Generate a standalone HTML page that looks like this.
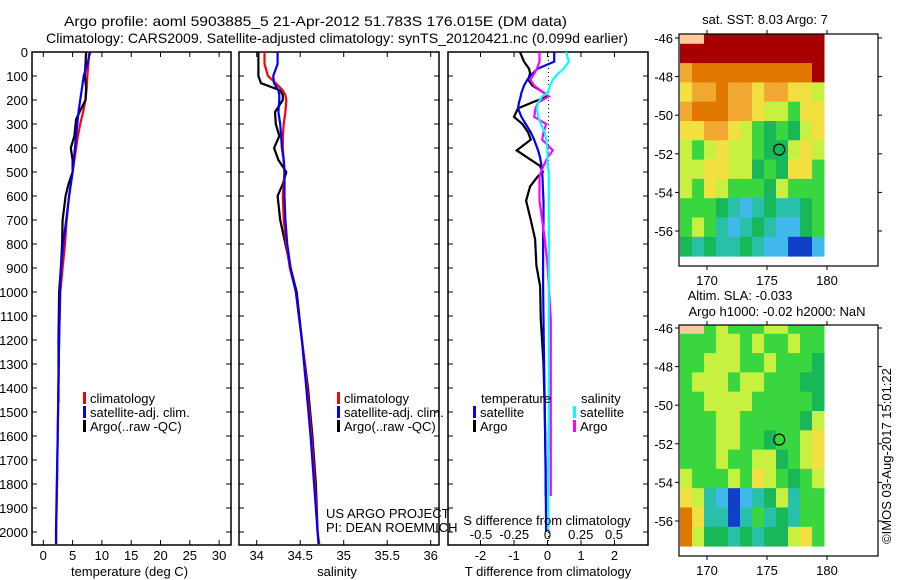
<!DOCTYPE html>
<html><head><meta charset="utf-8"><style>
html,body{margin:0;padding:0;background:#fff;}
svg{display:block;font-family:"Liberation Sans",sans-serif;}
</style></head><body>
<svg id="fig" width="900" height="580" viewBox="0 0 900 580" xmlns="http://www.w3.org/2000/svg">
<text x="64" y="26" font-size="14" textLength="503" lengthAdjust="spacingAndGlyphs">Argo profile: aoml 5903885_5 21-Apr-2012 51.783S 176.015E (DM data)</text>
<text x="46" y="43" font-size="14" textLength="582" lengthAdjust="spacingAndGlyphs">Climatology: CARS2009. Satellite-adjusted climatology: synTS_20120421.nc (0.099d earlier)</text>
<g id="g"></g>
</svg>
<script>
// ---- data ----
const tDepth=[0,50,100,150,200,250,300,350,400,450,500,600,700,800,900,1000,1200,1400,1600,1800,2000,2050];
const tClim=[7.8,7.7,7.5,7.4,7.2,6.8,6.3,5.9,5.6,5.3,5.0,4.4,4.0,3.7,3.3,2.9,2.7,2.57,2.45,2.35,2.2,2.2];
const tSat=[8.0,7.5,6.9,6.6,6.3,6.0,5.8,5.6,5.4,5.2,5.0,4.4,3.9,3.4,3.0,2.85,2.7,2.57,2.45,2.3,2.17,2.17];
const tArgoDepth=[0,50,100,150,200,250,280,350,400,450,500,550,600,700,800,900,1000,1200,1400,1460];
const tArgo=[7.3,7.2,7.1,7.3,7.2,6.2,5.6,5.3,4.7,5.0,5.0,4.3,3.8,3.3,3.2,3.0,2.7,2.6,2.6,2.6];
const sDepth=[0,50,100,130,160,180,200,250,300,350,400,450,500,550,600,700,800,900,1000,1200,1400,1600,1800,2000,2050];
const sClim=[34.09,34.09,34.13,34.22,34.30,34.33,34.34,34.33,34.31,34.30,34.30,34.31,34.32,34.31,34.30,34.31,34.34,34.38,34.45,34.52,34.58,34.63,34.67,34.70,34.72];
const sSat=[34.24,34.24,34.19,34.20,34.25,34.26,34.26,34.25,34.27,34.28,34.29,34.31,34.32,34.32,34.32,34.33,34.35,34.39,34.45,34.52,34.57,34.62,34.66,34.70,34.71];
const sArgo=[34.02,34.02,34.02,34.05,34.27,34.30,34.30,34.21,34.22,34.26,34.20,34.25,34.34,34.30,34.24,34.27,34.33,34.39,34.46,34.52,34.59,34.64,34.68,34.70,null];
const dDepth=[0,40,70,90,115,140,170,185,210,235,270,300,335,365,410,440,475,500,520,560,620,700,780,890,975,1115,1300,1500,1700,1850,2000];
const dTArgo=[-0.82,-0.7,-0.55,-0.52,-0.58,-0.45,-0.1,0,-0.45,-0.88,-1.0,-0.75,-0.58,-0.5,-0.92,-0.6,-0.22,-0.14,-0.3,-0.52,-0.64,-0.5,-0.37,-0.33,-0.22,-0.2,-0.12,-0.08,-0.06,-0.05,null];
const dTSat=[0.2,0.2,-0.3,-0.45,-0.6,-0.7,-0.78,-0.8,-0.85,-0.88,-0.78,-0.65,-0.5,-0.4,-0.28,-0.22,-0.18,-0.16,-0.15,-0.14,-0.12,-0.12,-0.13,-0.13,-0.13,-0.12,-0.1,-0.08,-0.06,-0.05,-0.04];
const dSSat=[0.14,0.16,0.12,0.08,0.04,0.02,0.0,-0.04,-0.07,-0.08,-0.07,-0.05,-0.02,-0.01,0,0,0,0.01,0.01,0.01,0.01,0.01,0.01,0.01,0.01,0.01,0.01,0.01,0.005,0.005,0.005];
const dSArgo=[-0.06,-0.06,-0.08,-0.1,-0.13,-0.1,-0.03,0.01,-0.07,-0.09,-0.1,-0.01,-0.03,-0.04,0.04,0.0,-0.03,-0.05,-0.06,-0.06,-0.06,-0.04,-0.02,0,0.01,0.025,0.025,0.025,0.025,0.025,null];
const depthTicks=[0,100,200,300,400,500,600,700,800,900,1000,1100,1200,1300,1400,1500,1600,1700,1800,1900,2000];
const tempTicks=[0,5,10,15,20,25,30];
const salTicks=[34,34.5,35,35.5,36];
const dTTicks=[-2,-1,0,1,2];
const dSTicks=[-0.5,-0.25,0,0.25,0.5];
const sstGrid=["LLRRRRRRRRRR","RRRRRRRRRRRR","oOOOOOOOOOOR","YooOooYooYYy","oOOOooYyyGYY","YYooYyGgGgyY","yGyYyyGggyYy","yyYYyygGgYYG","yGYyGGGgyGGG","GGGgCBCgCCgG","GyGCBCgCBBgG","gCgCCgCBBbbB"];
const slaGrid=["LLGyGGGyyGGG","GGGyyGyGGyGG","GGyyyGGyGGGg","GyyyGyyGGGgg","GGyyyyGGGGGg","GGGyyGGGGGgy","GGGyyGGgGGyY","GGGyGGyygGyY","yGGGyGYyGgGy","YyCBbBCgyCGG","OYCCbCGCgCGG","OyggCgCggyYG"];
const pal={L:"#fdcb9b",R:"#a80000",O:"#e07800",o:"#f0a830",Y:"#f2e040",y:"#c8f040",G:"#3ad640",g:"#18b858",C:"#28c0a8",B:"#40b8ec",b:"#1040c8"};
// ---- helpers ----
const NS="http://www.w3.org/2000/svg";
const G=document.getElementById('g');
function el(tag,attrs,parent){const e=document.createElementNS(NS,tag);for(const k in attrs)e.setAttribute(k,attrs[k]);(parent||G).appendChild(e);return e;}
const top0=52,pxm=0.24,bot=545;
const yD=d=>top0+d*pxm;
function lin(d0,d1,r0,r1){return v=>r0+(v-d0)*(r1-r0)/(d1-d0);}
const panels=[
 {x0:32,x1:231,sx:lin(0,30,43.3,219.1),ticks:tempTicks,label:"temperature (deg C)",name:"temperature-panel"},
 {x0:239,x1:439,sx:lin(34,36,256.7,430.7),ticks:salTicks,label:"salinity",name:"salinity-panel"},
 {x0:448,x1:648,sx:lin(-2,2,480.5,614.5),ticks:dTTicks,label:"T difference from climatology",name:"difference-panel"}];
const sS=lin(-0.5,0.5,481,614);
panels.forEach((p,i)=>{
 const g=el('g',{});
 
 
 const r=el('rect',{x:p.x0,y:top0,width:p.x1-p.x0,height:bot-top0,fill:'none',stroke:'#000','stroke-width':1.5},g);
 
 
 depthTicks.forEach(d=>{
  el('line',{x1:p.x0,x2:p.x0+5,y1:yD(d),y2:yD(d),stroke:'#000'},g);
  el('line',{x1:p.x1,x2:p.x1-5,y1:yD(d),y2:yD(d),stroke:'#000'},g);
  if(i===0){const t=el('text',{x:28,y:yD(d)+5,'font-size':13,'text-anchor':'end'},g);t.textContent=d;
   
   }
 });
 p.ticks.forEach(v=>{
  const x=p.sx(v);
  el('line',{x1:x,x2:x,y1:top0,y2:top0+5,stroke:'#000'},g);
  el('line',{x1:x,x2:x,y1:bot,y2:bot-5,stroke:'#000'},g);
  const t=el('text',{x:x,y:560,'font-size':13,'text-anchor':'middle'},g);t.textContent=v;
  
  
 });
 const xl=el('text',{x:(p.x0+p.x1)/2+(i==2?0:-2),y:576,'font-size':13,'text-anchor':'middle'},g);xl.textContent=p.label;
 
 
});
const zl=el('line',{x1:panels[2].sx(0)+1,x2:panels[2].sx(0)+1,y1:top0,y2:bot,stroke:'#000','stroke-dasharray':'1,3'});


function line(depths,vals,sx,color,name){
 let pts=[];depths.forEach((d,i)=>{if(vals[i]!=null)pts.push(sx(vals[i]).toFixed(1)+','+yD(d).toFixed(1));});
 const pl=el('polyline',{points:pts.join(' '),fill:'none',stroke:color,'stroke-width':2.2,'stroke-linejoin':'miter'});
 
 
}
line(tDepth,tClim,panels[0].sx,'#ff0000','temp-climatology-line');
line(tArgoDepth,tArgo,panels[0].sx,'#000','temp-argo-line');
line(tDepth,tSat,panels[0].sx,'#0000ff','temp-satellite-line');
line(sDepth,sArgo,panels[1].sx,'#000','sal-argo-line');
line(sDepth,sClim,panels[1].sx,'#ff0000','sal-climatology-line');
line(sDepth,sSat,panels[1].sx,'#0000ff','sal-satellite-line');
line(dDepth,dTArgo,panels[2].sx,'#000','tdiff-argo-line');
line(dDepth,dTSat,panels[2].sx,'#0000ff','tdiff-satellite-line');
line(dDepth,dSArgo,sS,'#ff00ff','sdiff-argo-line');
line(dDepth,dSSat,sS,'#00ffff','sdiff-satellite-line');
function leg(x,y,color,text,name){
 const g=el('g',{});
 
 
 if(color)el('rect',{x:x,y:y-11,width:3,height:12,fill:color},g);
 const t=el('text',{x:x+7,y:y,'font-size':13},g);t.textContent=text;
}
leg(83,403,'#f00','climatology','legend-climatology');
leg(83,417,'#00f','satellite-adj. clim.','legend-satellite-adj');
leg(83,431,'#000','Argo(..raw -QC)','legend-argo');
leg(337,403,'#f00','climatology','legend-climatology-2');
leg(337,417,'#00f','satellite-adj. clim.','legend-satellite-adj-2');
leg(337,431,'#000','Argo(..raw -QC)','legend-argo-2');
leg(474,403,null,'temperature','legend-temperature-head');
leg(473,417,'#00f','satellite','legend-t-satellite');
leg(473,431,'#000','Argo','legend-t-argo');
leg(574,403,null,'salinity','legend-salinity-head');
leg(573,417,'#0ff','satellite','legend-s-satellite');
leg(573,431,'#f0f','Argo','legend-s-argo');
let t=el('text',{x:326,y:518,'font-size':13});t.textContent='US ARGO PROJECT';

t=el('text',{x:326,y:532,'font-size':13});t.textContent='PI: DEAN ROEMMICH';

t=el('text',{x:547,y:525,'font-size':13,'text-anchor':'middle'});t.textContent='S difference from climatology';

dSTicks.forEach(v=>{const tt=el('text',{x:sS(v),y:539,'font-size':13,'text-anchor':'middle'});tt.textContent=String(v);
 });
const lonX=lin(170,180,707,827);
function map(grid,yTop,yBot,latY,name){
 const g=el('g',{});
 
 
 const x0=679,x1=878;
 grid.forEach((row,r)=>{[...row].forEach((c,k)=>{
  const xa=lonX(168+k)-3,xb=lonX(169+k)-3;
  const ya=latY(-46+1-r-0.3), yb=latY(-47+1-r-0.3);
  const cx=Math.max(xa,x0), cy=Math.max(ya,yTop), cy2=Math.min(yb,yBot);
  if(cy2>cy) el('rect',{x:cx,y:cy,width:xb-cx+0.5,height:cy2-cy+0.5,fill:pal[c]},g);
 });});
 el('rect',{x:x0,y:yTop,width:x1-x0,height:yBot-yTop,fill:'none',stroke:'#000','stroke-width':1.2},g);
 [-46,-48,-50,-52,-54,-56].forEach(l=>{const y=latY(l);
  el('line',{x1:x0-4,x2:x0,y1:y,y2:y,stroke:'#000'},g);el('line',{x1:x1,x2:x1+4,y1:y,y2:y,stroke:'#000'},g);
  const tt=el('text',{x:673,y:y+5,'font-size':13,'text-anchor':'end'},g);tt.textContent=l;
  });
 [170,175,180].forEach(lo=>{const x=lonX(lo);
  el('line',{x1:x,x2:x,y1:yTop-4,y2:yTop,stroke:'#000'},g);el('line',{x1:x,x2:x,y1:yBot,y2:yBot+4,stroke:'#000'},g);
  const tt=el('text',{x:x,y:yBot+19,'font-size':13,'text-anchor':'middle'},g);tt.textContent=lo;
  });
 const c=el('circle',{cx:lonX(176.015),cy:latY(-51.783),r:5.5,fill:'none',stroke:'#000','stroke-width':1.2},g);
 
}
map(sstGrid,34,266,lin(-46,-56,38,231),'sst-map');
map(slaGrid,325,556,lin(-46,-56,328,521),'sla-map');
t=el('text',{x:765,y:24,'font-size':13,'text-anchor':'middle'});t.textContent='sat. SST: 8.03 Argo: 7';

t=el('text',{x:740,y:300,'font-size':13,'text-anchor':'middle'});t.textContent='Altim. SLA: -0.033';

t=el('text',{x:777,y:316,'font-size':13,'text-anchor':'middle'});t.textContent='Argo h1000: -0.02 h2000: NaN';

t=el('text',{x:891,y:456,'font-size':13,'text-anchor':'middle',transform:'rotate(-90 891 456)'});t.textContent='\u00a9IMOS 03-Aug-2017 15:01:22';

</script>
</body></html>
